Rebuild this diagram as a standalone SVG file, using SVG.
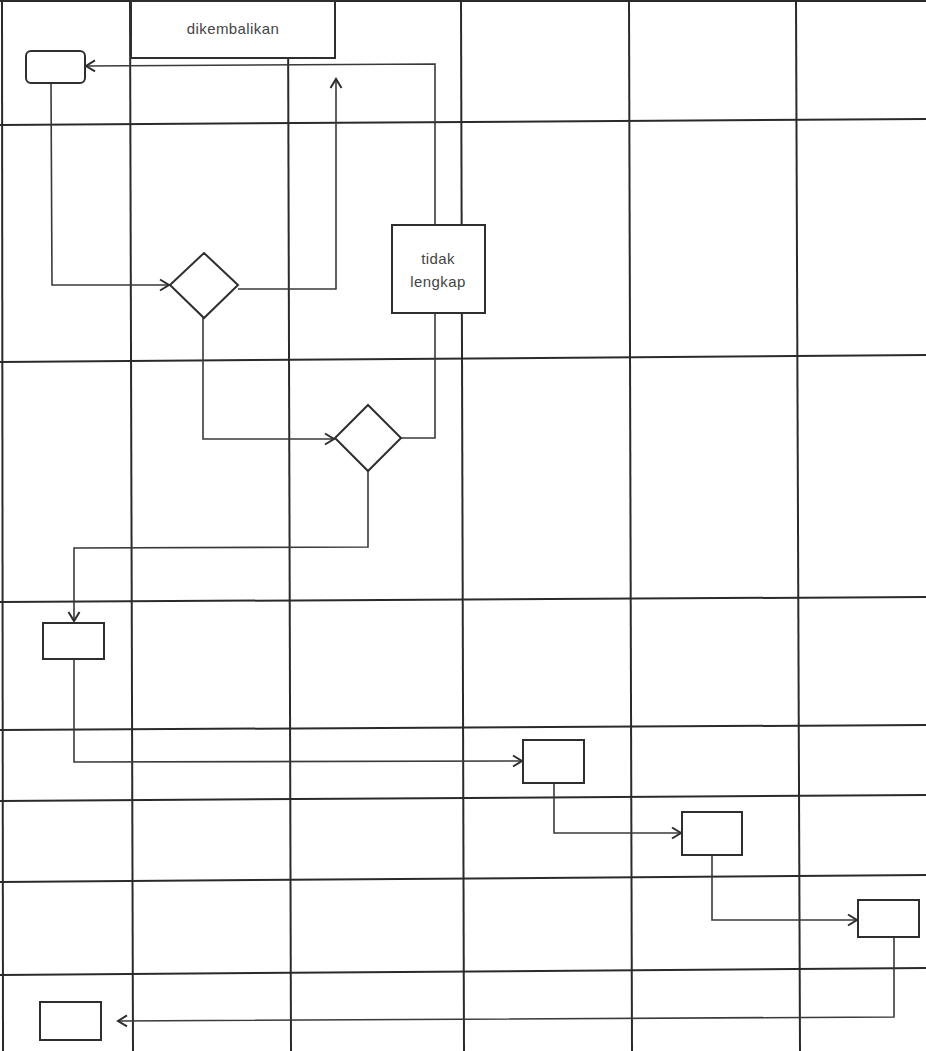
<svg xmlns="http://www.w3.org/2000/svg" width="926" height="1051" viewBox="0 0 926 1051">
<defs>
<style>
.grid{stroke:#2a2a2a;stroke-width:2;fill:none}
.conn{stroke:#3a3a3a;stroke-width:1.6;fill:none}
.node{stroke:#2e2e2e;stroke-width:2;fill:#fff}
.lbl{font-family:"Liberation Sans","Open Sans",Arial,sans-serif;font-size:15px;letter-spacing:0.4px;fill:#444;text-anchor:middle}
</style>
<marker id="arr" markerUnits="userSpaceOnUse" markerWidth="14" markerHeight="14" viewBox="-11 -7 14 14" refX="0" refY="0" orient="auto">
<path d="M-9,-5.5 L0,0 L-9,5.5" fill="none" stroke="#2e2e2e" stroke-width="2"/>
</marker>
</defs>
<rect x="0" y="0" width="926" height="1051" fill="#fff"/>
<g id="grid">
<line class="grid" x1="0" y1="1" x2="926" y2="1"/>
<line class="grid" x1="0" y1="125" x2="926" y2="119"/>
<line class="grid" x1="0" y1="362" x2="926" y2="355"/>
<line class="grid" x1="0" y1="602" x2="926" y2="597"/>
<line class="grid" x1="0" y1="730" x2="926" y2="725"/>
<line class="grid" x1="0" y1="801" x2="926" y2="795"/>
<line class="grid" x1="0" y1="882" x2="926" y2="875"/>
<line class="grid" x1="0" y1="975" x2="926" y2="968"/>
<line class="grid" x1="2" y1="0" x2="3" y2="1051"/>
<line class="grid" x1="130" y1="0" x2="133" y2="1051"/>
<line class="grid" x1="288" y1="0" x2="291" y2="1051"/>
<line class="grid" x1="461" y1="0" x2="464" y2="1051"/>
<line class="grid" x1="629" y1="0" x2="632" y2="1051"/>
<line class="grid" x1="796" y1="0" x2="800" y2="1051"/>
</g>
<g id="connectors">
<polyline class="conn" points="51,83 52,285 169,285" marker-end="url(#arr)"/>
<polyline class="conn" points="238,289 336,289 336,79" marker-end="url(#arr)"/>
<polyline class="conn" points="401,438 435,438 435,64 86,66" marker-end="url(#arr)"/>
<polyline class="conn" points="203,318 203,439 334,439" marker-end="url(#arr)"/>
<polyline class="conn" points="368,471 368,547 74,548 74,621" marker-end="url(#arr)"/>
<polyline class="conn" points="74,659 74,762 522,761" marker-end="url(#arr)"/>
<polyline class="conn" points="554,783 554,833 681,833" marker-end="url(#arr)"/>
<polyline class="conn" points="712,855 712,920 857,920" marker-end="url(#arr)"/>
<polyline class="conn" points="894,937 894,1017 118,1021" marker-end="url(#arr)"/>
</g>
<g id="node-dikembalikan">
<rect class="node" x="131" y="1" width="204" height="57"/>
<text class="lbl" x="233" y="34">dikembalikan</text>
</g>
<g id="node-start">
<rect class="node" x="26" y="51" width="59" height="32" rx="5"/>
</g>
<g id="node-decision1">
<polygon class="node" points="204,253 238,285 204,318 170,285"/>
</g>
<g id="node-tidak-lengkap">
<rect class="node" x="392" y="225" width="93" height="88"/>
<text class="lbl" x="438" y="264">tidak</text>
<text class="lbl" x="438" y="287">lengkap</text>
</g>
<g id="node-decision2">
<polygon class="node" points="368,405 401,438 368,471 335,438"/>
</g>
<g id="node-box1">
<rect class="node" x="43" y="623" width="61" height="36"/>
</g>
<g id="node-box2">
<rect class="node" x="523" y="740" width="61" height="43"/>
</g>
<g id="node-box3">
<rect class="node" x="682" y="812" width="60" height="43"/>
</g>
<g id="node-box4">
<rect class="node" x="858" y="900" width="61" height="37"/>
</g>
<g id="node-box5">
<rect class="node" x="40" y="1002" width="61" height="38"/>
</g>
</svg>
